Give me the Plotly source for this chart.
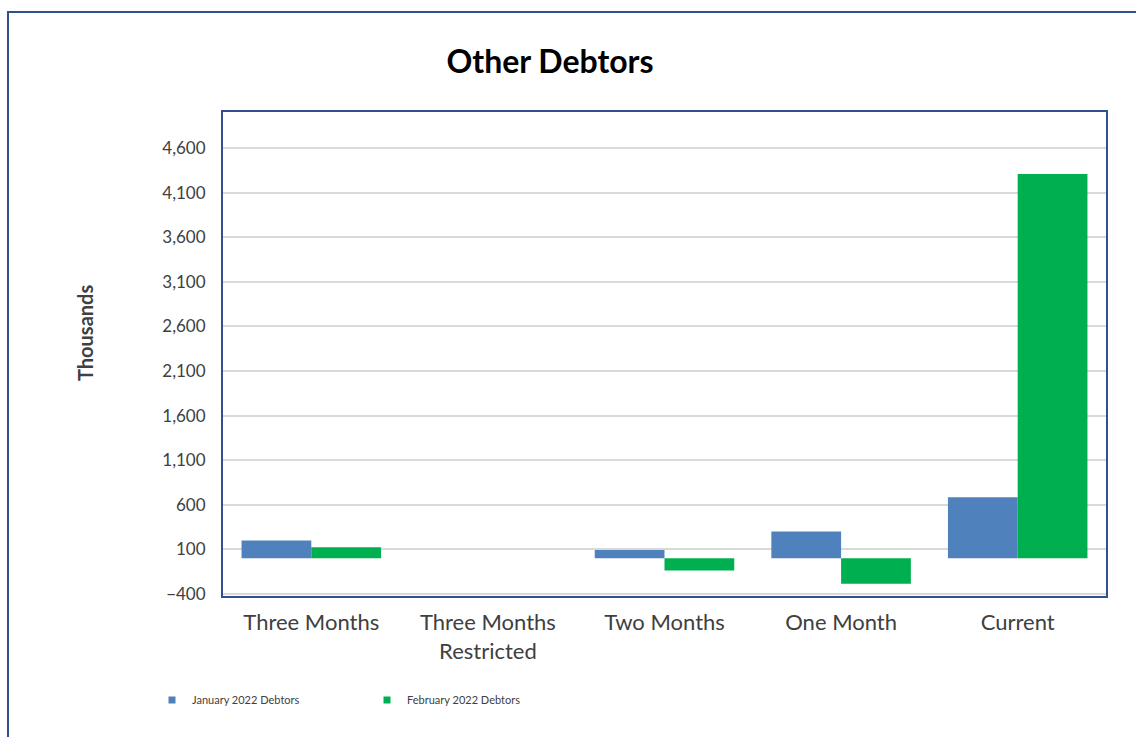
import plotly.graph_objects as go

categories = ["Three Months", "Three Months<br>Restricted", "Two Months", "One Month", "Current"]
jan_2022 = [200, 0, 95, 300, 685]
feb_2022 = [125, 0, -135, -285, 4310]
series_names = ["January 2022 Debtors", "February 2022 Debtors"]
tick_vals = [-400, 100, 600, 1100, 1600, 2100, 2600, 3100, 3600, 4100, 4600]

BLUE = "#4F81BD"
GREEN = "#00B050"
FRAME = "#2F528F"

W, H = 1136, 737
L, R, T, B = 223, 30, 112, 141
pw, ph = W - L - R, H - T - B

def px_x(x):
    return (x - L) / pw

def px_y(y):
    return (H - B - y) / ph

fig = go.Figure()
fig.add_trace(go.Bar(x=categories, y=jan_2022, name=series_names[0], marker=dict(color=BLUE, line=dict(width=0)), showlegend=False))
fig.add_trace(go.Bar(x=categories, y=feb_2022, name=series_names[1], marker=dict(color=GREEN, line=dict(width=0)), showlegend=False))
# legend proxies with small square markers
fig.add_trace(go.Scatter(x=[None], y=[None], mode="markers", name=series_names[0], marker=dict(symbol="square", size=7, color=BLUE)))
fig.add_trace(go.Scatter(x=[None], y=[None], mode="markers", name=series_names[1], marker=dict(symbol="square", size=7, color=GREEN)))

fig.update_layout(
    width=W, height=H,
    margin=dict(l=L, r=R, t=T, b=B),
    paper_bgcolor="white", plot_bgcolor="white",
    font=dict(family="Lato, Carlito, Calibri, sans-serif", color="#404040"),
    barmode="group", bargap=0.21, bargroupgap=0,
    title=dict(text="<b>Other Debtors</b>", x=(550) / W, xanchor="center", y=1 - 62 / H, yanchor="middle",
               font=dict(size=32, color="black", family="Lato, Carlito, sans-serif")),
    showlegend=True,
    legend=dict(orientation="h", x=px_x(152), y=px_y(700), xanchor="left", yanchor="middle",
                font=dict(size=11, color="#404040"), itemwidth=30, entrywidth=170, entrywidthmode="pixels",
                bgcolor="rgba(0,0,0,0)"),
    xaxis=dict(showline=True, linecolor=FRAME, linewidth=2, mirror=True, showgrid=False,
               tickfont=dict(size=22, color="#404040"), ticks="", ticklabelstandoff=6, fixedrange=True),
    yaxis=dict(range=[-422, 5005], tickvals=tick_vals, tickformat=",", showline=True, linecolor=FRAME, linewidth=2,
               mirror=True, showgrid=True, gridcolor="#D9D9D9", gridwidth=1.5, zeroline=False,
               tickfont=dict(size=17, color="#404040"), ticks="", ticklabelstandoff=12),
    shapes=[dict(type="rect", xref="paper", yref="paper", x0=px_x(8), y0=px_y(760), x1=px_x(1160), y1=px_y(12),
                 line=dict(color=FRAME, width=2), fillcolor="rgba(0,0,0,0)", layer="below")],
    annotations=[dict(text="<b>Thousands</b>", xref="paper", yref="paper", x=px_x(85), y=px_y(333), textangle=-90,
                      showarrow=False, font=dict(size=20, color="#404040"), xanchor="center", yanchor="middle")],
)

fig.write_html("out.html")
